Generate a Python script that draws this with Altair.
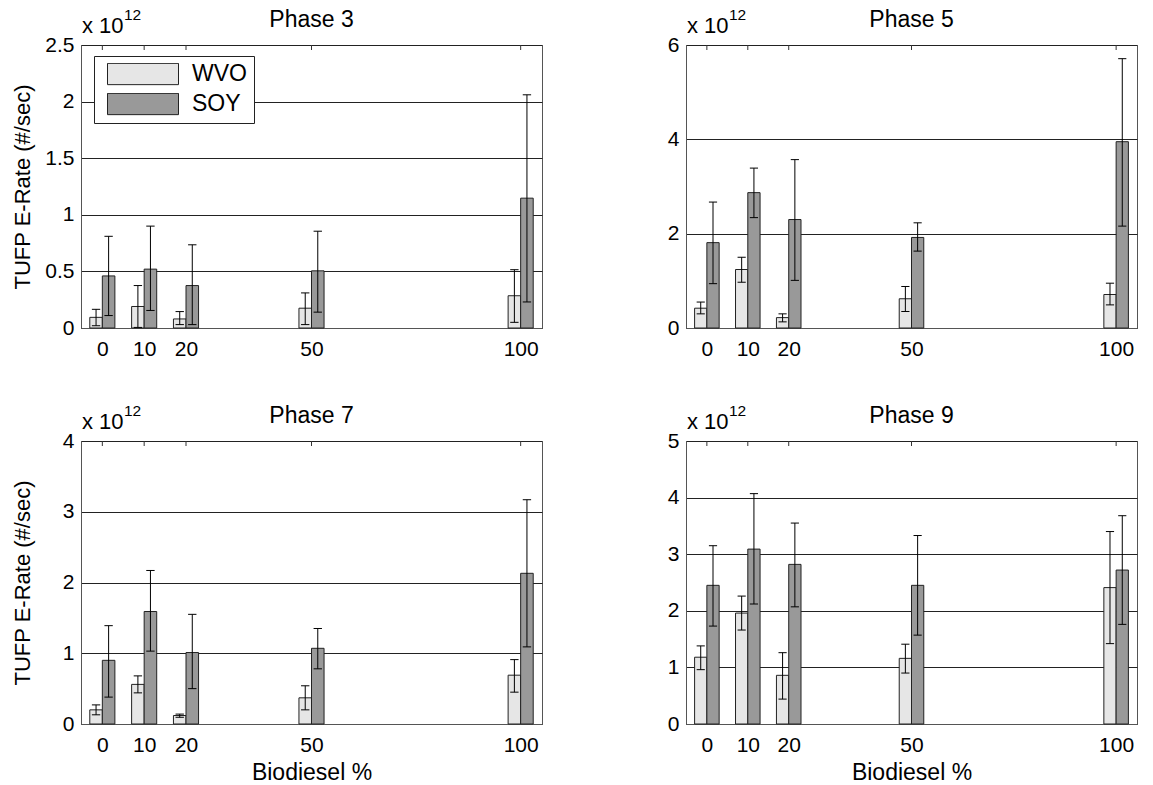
import altair as alt
import pandas as pd

FONT = "Liberation Sans"

biodiesel = [0, 10, 20, 50, 100]
fuels = ["WVO", "SOY"]
fuel_colors = ["#e6e6e6", "#999999"]
exp_base = "x 10"
exp_power = "12"
y_title = "TUFP E-Rate (#/sec)"
x_title = "Biodiesel %"

# values in units of 10^12 #/sec : mean, lower and upper end of error bar
p3_wvo = [0.094, 0.19, 0.08, 0.175, 0.285]
p3_wvo_lo = [0.02, 0.005, 0.03, 0.03, 0.05]
p3_wvo_hi = [0.165, 0.375, 0.145, 0.31, 0.515]
p3_soy = [0.46, 0.52, 0.375, 0.505, 1.147]
p3_soy_lo = [0.11, 0.155, 0.03, 0.14, 0.23]
p3_soy_hi = [0.81, 0.90, 0.735, 0.855, 2.06]

p5_wvo = [0.42, 1.24, 0.22, 0.62, 0.71]
p5_wvo_lo = [0.30, 0.97, 0.13, 0.35, 0.49]
p5_wvo_hi = [0.55, 1.50, 0.30, 0.88, 0.95]
p5_soy = [1.81, 2.87, 2.30, 1.92, 3.95]
p5_soy_lo = [0.94, 2.34, 1.01, 1.63, 2.16]
p5_soy_hi = [2.67, 3.39, 3.57, 2.23, 5.71]

p7_wvo = [0.20, 0.56, 0.12, 0.37, 0.69]
p7_wvo_lo = [0.13, 0.44, 0.095, 0.20, 0.45]
p7_wvo_hi = [0.27, 0.68, 0.14, 0.54, 0.91]
p7_soy = [0.90, 1.59, 1.01, 1.07, 2.13]
p7_soy_lo = [0.38, 1.03, 0.50, 0.78, 1.09]
p7_soy_hi = [1.39, 2.17, 1.55, 1.35, 3.17]

p9_wvo = [1.18, 1.96, 0.86, 1.16, 2.41]
p9_wvo_lo = [0.96, 1.66, 0.44, 0.90, 1.42]
p9_wvo_hi = [1.38, 2.26, 1.26, 1.41, 3.40]
p9_soy = [2.45, 3.09, 2.82, 2.45, 2.72]
p9_soy_lo = [1.73, 2.12, 2.07, 1.57, 1.76]
p9_soy_hi = [3.15, 4.07, 3.55, 3.33, 3.68]

panels = [
    ("Phase 3", (p3_wvo, p3_wvo_lo, p3_wvo_hi), (p3_soy, p3_soy_lo, p3_soy_hi), 2.5, [0, 0.5, 1, 1.5, 2, 2.5]),
    ("Phase 5", (p5_wvo, p5_wvo_lo, p5_wvo_hi), (p5_soy, p5_soy_lo, p5_soy_hi), 6, [0, 2, 4, 6]),
    ("Phase 7", (p7_wvo, p7_wvo_lo, p7_wvo_hi), (p7_soy, p7_soy_lo, p7_soy_hi), 4, [0, 1, 2, 3, 4]),
    ("Phase 9", (p9_wvo, p9_wvo_lo, p9_wvo_hi), (p9_soy, p9_soy_lo, p9_soy_hi), 5, [0, 1, 2, 3, 4, 5]),
]

H = 283
WIDTHS = [461, 451, 461, 451]


def make_panel(idx):
    name, wvo, soy, ymax, yticks = panels[idx]
    w = WIDTHS[idx]
    left = idx % 2 == 0
    bottom = idx >= 2
    rows = []
    for fuel, (m, lo, hi) in zip(fuels, [wvo, soy]):
        for p, a, b, c in zip(biodiesel, m, lo, hi):
            rows.append({"pct": p, "fuel": fuel, "mean": a, "lo": b, "hi": c})
    df = pd.DataFrame(rows)

    xscale = alt.Scale(domain=[-5.1, 105.1], nice=False, zero=False)
    yscale = alt.Scale(domain=[0, ymax], nice=False)
    xaxis = alt.Axis(
        values=biodiesel, ticks=False, grid=False, labelPadding=10,
        labelFont=FONT, labelFontSize=21, labelColor="black",
        domainColor="#555", title=x_title if bottom else None,
        titleFont=FONT, titleFontSize=23, titleFontWeight="normal",
        titleColor="black", titlePadding=6,
    )
    yaxis = alt.Axis(
        values=yticks, format="~g", ticks=False, grid=True,
        gridColor="#222", gridWidth=1, gridOpacity=1,
        labelPadding=7, labelFont=FONT, labelFontSize=21, labelColor="black",
        domainColor="#555", title=y_title if left else None,
        titleFont=FONT, titleFontSize=22, titleFontWeight="normal",
        titleColor="black", titlePadding=9, minExtent=38, maxExtent=38,
    )

    base = alt.Chart(df).transform_calculate(
        x0="datum.pct + (datum.fuel == 'WVO' ? -3 : 0)",
        x1="datum.pct + (datum.fuel == 'WVO' ? 0 : 3)",
        xc="datum.pct + (datum.fuel == 'WVO' ? -1.5 : 1.5)",
        c0="datum.pct + (datum.fuel == 'WVO' ? -2.5 : 0.5)",
        c1="datum.pct + (datum.fuel == 'WVO' ? -0.5 : 2.5)",
    )

    if idx == 0:
        legend = alt.Legend(
            title=None, orient="none", legendX=13, legendY=11, direction="vertical",
            symbolType="M-1,-0.3L1,-0.3L1,0.3L-1,0.3Z", symbolSize=5041,
            symbolStrokeColor="#222", symbolStrokeWidth=1, symbolOpacity=1,
            clipHeight=22, rowPadding=7, symbolOffset=6, labelOffset=13,
            labelFont=FONT, labelFontSize=23, labelColor="black", labelLimit=200,
            padding=7, strokeColor="#222", fillColor="white",
        )
    else:
        legend = None

    bars = base.mark_bar(stroke="#222", strokeWidth=1, opacity=1).encode(
        x=alt.X("x0:Q", scale=xscale, axis=xaxis),
        x2="x1:Q",
        y=alt.Y("mean:Q", scale=yscale, axis=yaxis),
        y2=alt.datum(0),
        fill=alt.Fill("fuel:N", scale=alt.Scale(domain=fuels, range=fuel_colors),
                      legend=legend, sort=fuels),
    )
    err = base.mark_rule(color="black", strokeWidth=1).encode(
        x=alt.X("xc:Q", scale=xscale, axis=xaxis),
        y=alt.Y("lo:Q", scale=yscale, axis=yaxis),
        y2="hi:Q",
    )
    cap_hi = base.mark_rule(color="black", strokeWidth=1).encode(
        x=alt.X("c0:Q", scale=xscale, axis=xaxis),
        x2="c1:Q",
        y=alt.Y("hi:Q", scale=yscale, axis=yaxis),
    )
    cap_lo = base.mark_rule(color="black", strokeWidth=1).encode(
        x=alt.X("c0:Q", scale=xscale, axis=xaxis),
        x2="c1:Q",
        y=alt.Y("lo:Q", scale=yscale, axis=yaxis),
    )
    top_ticks = alt.Chart(pd.DataFrame({"pct": biodiesel})).mark_rule(
        color="#333", strokeWidth=1
    ).encode(
        x=alt.X("pct:Q", scale=xscale, axis=xaxis),
        y=alt.value(0), y2=alt.value(5),
    )
    title = alt.Chart(pd.DataFrame({"t": [name]})).mark_text(
        font=FONT, fontSize=23, color="black", align="center", baseline="alphabetic"
    ).encode(text="t:N", x=alt.value(w / 2), y=alt.value(-18))
    e_base = alt.Chart(pd.DataFrame({"t": [exp_base]})).mark_text(
        font=FONT, fontSize=22, color="black", align="left", baseline="alphabetic"
    ).encode(text="t:N", x=alt.value(1), y=alt.value(-12))
    e_pow = alt.Chart(pd.DataFrame({"t": [exp_power]})).mark_text(
        font=FONT, fontSize=15.5, color="black", align="left", baseline="alphabetic"
    ).encode(text="t:N", x=alt.value(43), y=alt.value(-25))

    return alt.layer(bars, err, cap_hi, cap_lo, top_ticks, title, e_base, e_pow).properties(
        width=w, height=H
    )


chart = alt.concat(
    *[make_panel(i) for i in range(4)],
    columns=2,
    spacing=alt.RowColnumber(row=113, column=144),
    bounds="flush",
).resolve_scale(fill="independent").configure_view(
    stroke="#555", strokeWidth=1
).properties(
    padding={"left": 10, "top": 7, "right": 5, "bottom": 5},
    background="white",
)

chart.save("out.html", embed_options={"renderer": "svg", "actions": False})
